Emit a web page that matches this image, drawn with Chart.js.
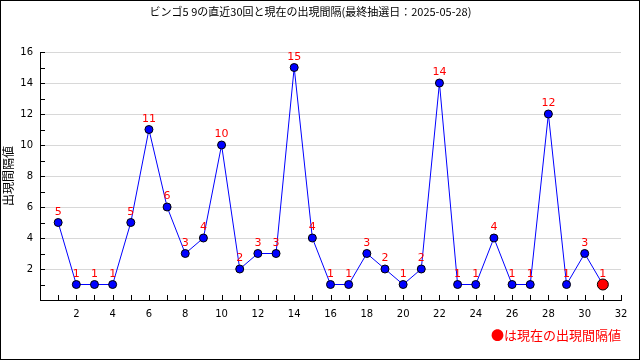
<!DOCTYPE html>
<html>
<head>
    <meta charset="utf-8">
    <title>ビンゴ5 9 出現間隔</title>
    <script src="https://cdn.jsdelivr.net/npm/chart.js"></script>
    <style>
        body { margin: 0; background: #fff; }
        #wrap { width: 640px; height: 360px; }
    </style>
</head>
<body>
    <div id="wrap"><canvas id="chart" width="640" height="360"></canvas></div>

    <script>
        // 直近30回 + 現在の出現間隔
        const drawNumbers = [1, 2, 3, 4, 5, 6, 7, 8, 9, 10, 11, 12, 13, 14, 15, 16, 17, 18, 19, 20, 21, 22, 23, 24, 25, 26, 27, 28, 29, 30, 31];
        const intervals = [5, 1, 1, 1, 5, 11, 6, 3, 4, 10, 2, 3, 3, 15, 4, 1, 1, 3, 2, 1, 2, 14, 1, 1, 4, 1, 1, 12, 1, 3, 1];
        const xTicks = [2, 4, 6, 8, 10, 12, 14, 16, 18, 20, 22, 24, 26, 28, 30, 32];
        const yTicks = [2, 4, 6, 8, 10, 12, 14, 16];

        const titleText = 'ビンゴ5 9の直近30回と現在の出現間隔(最終抽選日：2025-05-28)';
        const noteText = '●は現在の出現間隔値';
        const numFont = '"DejaVu Sans", "Noto Sans CJK JP", sans-serif';
        const jpFont = '"Noto Sans CJK JP", sans-serif';

        const lastIndex = intervals.length - 1;

        // 内向きの目盛り線、値ラベル、外枠
        const extras = {
            id: 'extras',
            afterDatasetsDraw(chart) {
                const ctx = chart.ctx;
                const xs = chart.scales.x, ys = chart.scales.y;
                const area = chart.chartArea;
                ctx.save();
                ctx.strokeStyle = '#000';
                ctx.lineWidth = 1;
                ctx.beginPath();
                for (let v = 1; v <= 32; v++) {
                    const px = Math.round(xs.getPixelForValue(v)) + 0.5;
                    ctx.moveTo(px, area.bottom);
                    ctx.lineTo(px, area.bottom - 5);
                }
                for (let v = 1; v <= 16; v++) {
                    const py = Math.round(ys.getPixelForValue(v)) + 0.5;
                    ctx.moveTo(area.left, py);
                    ctx.lineTo(area.left + 5, py);
                }
                ctx.stroke();

                const meta = chart.getDatasetMeta(0);
                ctx.fillStyle = '#ff0000';
                ctx.font = '11px ' + numFont;
                ctx.textAlign = 'center';
                ctx.textBaseline = 'bottom';
                meta.data.forEach((pt, i) => {
                    ctx.fillText(String(intervals[i]), pt.x, pt.y - 5);
                });

                ctx.strokeStyle = '#000';
                ctx.strokeRect(0.5, 0.5, chart.width - 1, chart.height - 1);
                ctx.restore();
            }
        };

        new Chart(document.getElementById('chart'), {
            type: 'line',
            data: {
                datasets: [{
                    data: drawNumbers.map((n, i) => ({ x: n, y: intervals[i] })),
                    borderColor: '#0000ff',
                    borderWidth: 1,
                    tension: 0,
                    pointBackgroundColor: ctx => ctx.dataIndex === lastIndex ? '#ff0000' : '#0000ff',
                    pointBorderColor: '#000',
                    pointBorderWidth: 1,
                    pointRadius: ctx => ctx.dataIndex === lastIndex ? 5.5 : 4,
                    pointHoverRadius: ctx => ctx.dataIndex === lastIndex ? 5.5 : 4
                }]
            },
            options: {
                responsive: false,
                animation: false,
                events: [],
                layout: { padding: { top: 0, right: 19, bottom: 0, left: 0 } },
                plugins: {
                    legend: { display: false },
                    tooltip: { enabled: false },
                    title: {
                        display: true,
                        text: titleText,
                        color: '#000',
                        font: { family: jpFont, size: 11, weight: 'normal', lineHeight: 1.2 },
                        padding: { top: 5, bottom: 33.8 }
                    },
                    subtitle: {
                        display: true,
                        position: 'bottom',
                        align: 'end',
                        text: noteText,
                        color: '#ff0000',
                        font: { family: jpFont, size: 13, weight: 'normal', lineHeight: 1.2 },
                        padding: { top: 0, bottom: 17 }
                    }
                },
                scales: {
                    x: {
                        type: 'linear',
                        min: 0,
                        max: 32,
                        afterBuildTicks: s => { s.ticks = [0].concat(xTicks).map(v => ({ value: v })); },
                        afterFit: s => { s.height = 360 - 300 - (13 * 1.2 + 17); },
                        grid: { display: false, drawTicks: false },
                        border: { color: '#000', width: 1 },
                        ticks: {
                            color: '#000',
                            font: { family: numFont, size: 10 },
                            padding: 8,
                            maxRotation: 0,
                            autoSkip: false,
                            callback: v => v === 0 ? '' : String(v)
                        }
                    },
                    y: {
                        min: 0,
                        max: 16,
                        afterBuildTicks: s => { s.ticks = [0].concat(yTicks).map(v => ({ value: v })); },
                        afterFit: s => { s.width = 40; },
                        grid: {
                            drawTicks: false,
                            color: ctx => ctx.tick && ctx.tick.value === 0 ? 'rgba(0,0,0,0)' : '#d8d8d8'
                        },
                        border: { color: '#000', width: 1 },
                        title: {
                            display: true,
                            text: '出現間隔値',
                            color: '#000',
                            font: { family: jpFont, size: 12, lineHeight: 1.2 },
                            padding: { top: 1, bottom: 0 }
                        },
                        ticks: {
                            color: '#000',
                            font: { family: numFont, size: 10 },
                            padding: 7,
                            callback: v => v === 0 ? '' : String(v)
                        }
                    }
                }
            },
            plugins: [extras]
        });
    </script>
</body>
</html>
